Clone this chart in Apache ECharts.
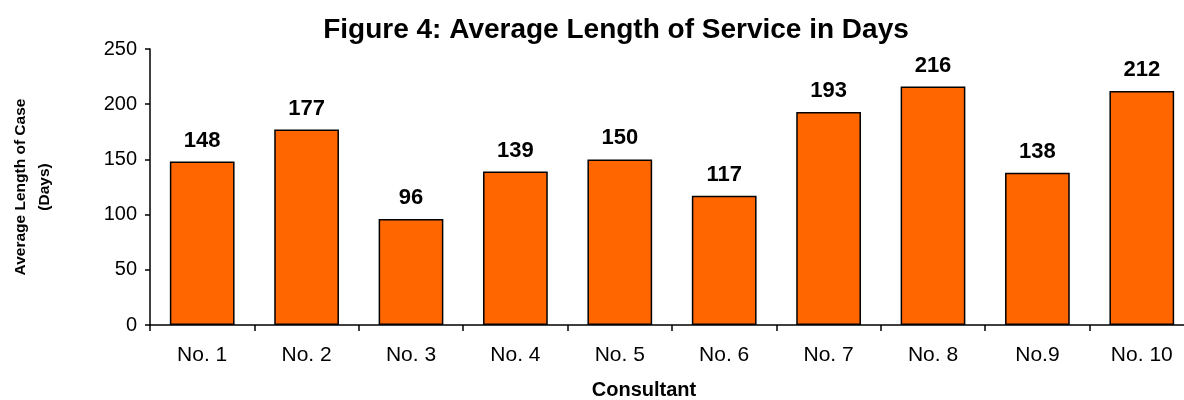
<!DOCTYPE html>
<html>
<head>
<meta charset="utf-8">
<script src="https://cdn.jsdelivr.net/npm/echarts@6/dist/echarts.min.js"></script>
<style>
  html, body { margin: 0; padding: 0; background: #fff; }
  #chart { width: 1184px; height: 400px; }
</style>
</head>
<body>
<div id="chart"></div>
<script>
const consultants = ['No. 1', 'No. 2', 'No. 3', 'No. 4', 'No. 5', 'No. 6', 'No. 7', 'No. 8', 'No.9', 'No. 10'];
const avgDays = [148, 177, 96, 139, 150, 117, 193, 216, 138, 212];
const yTicks = [0, 50, 100, 150, 200, 250];

const font = 'Arial, "Liberation Sans", sans-serif';
const chart = echarts.init(document.getElementById('chart'));

chart.setOption({
  animation: false,
  textStyle: { fontFamily: font },
  title: {
    text: 'Figure 4: Average Length of Service in Days',
    left: 611,
    textAlign: 'center',
    top: 11,
    textStyle: { fontFamily: font, fontSize: 28, fontWeight: 'bold', color: '#000' }
  },
  grid: {
    left: 150,
    right: -10,
    top: 49,
    bottom: 75,
    containLabel: false,
    outerBoundsMode: 'none'
  },
  xAxis: {
    type: 'category',
    data: consultants,
    name: 'Consultant',
    nameLocation: 'middle',
    nameGap: 55,
    nameTextStyle: {
      fontFamily: font, fontSize: 20, fontWeight: 'bold', color: '#000',
      padding: [0, 56, 0, 0]
    },
    axisLine: { lineStyle: { color: '#000', width: 1.5 } },
    axisTick: { show: true, length: 6, lineStyle: { color: '#000', width: 1.5 } },
    axisLabel: { fontFamily: font, fontSize: 21, color: '#000', margin: 20 }
  },
  yAxis: {
    type: 'value',
    min: yTicks[0],
    max: yTicks[yTicks.length - 1],
    interval: yTicks[1] - yTicks[0],
    name: 'Average Length of Case\n(Days)',
    nameLocation: 'middle',
    nameGap: 93,
    nameTextStyle: { fontFamily: font, fontSize: 15.5, fontWeight: 'bold', color: '#000', lineHeight: 24 },
    axisLine: { show: true, lineStyle: { color: '#000', width: 1.5 } },
    axisTick: { show: true, length: 5, lineStyle: { color: '#000', width: 1.5 } },
    axisLabel: { fontFamily: font, fontSize: 20, color: '#000', margin: 13 },
    splitLine: { show: false }
  },
  series: [{
    type: 'bar',
    data: avgDays,
    barCategoryGap: '38%',
    itemStyle: { color: '#FF6600', borderColor: '#000', borderWidth: 1.5 },
    label: {
      show: true,
      position: 'top',
      distance: 10,
      fontFamily: font,
      fontSize: 22,
      fontWeight: 'bold',
      color: '#000'
    }
  }]
});
</script>
</body>
</html>
